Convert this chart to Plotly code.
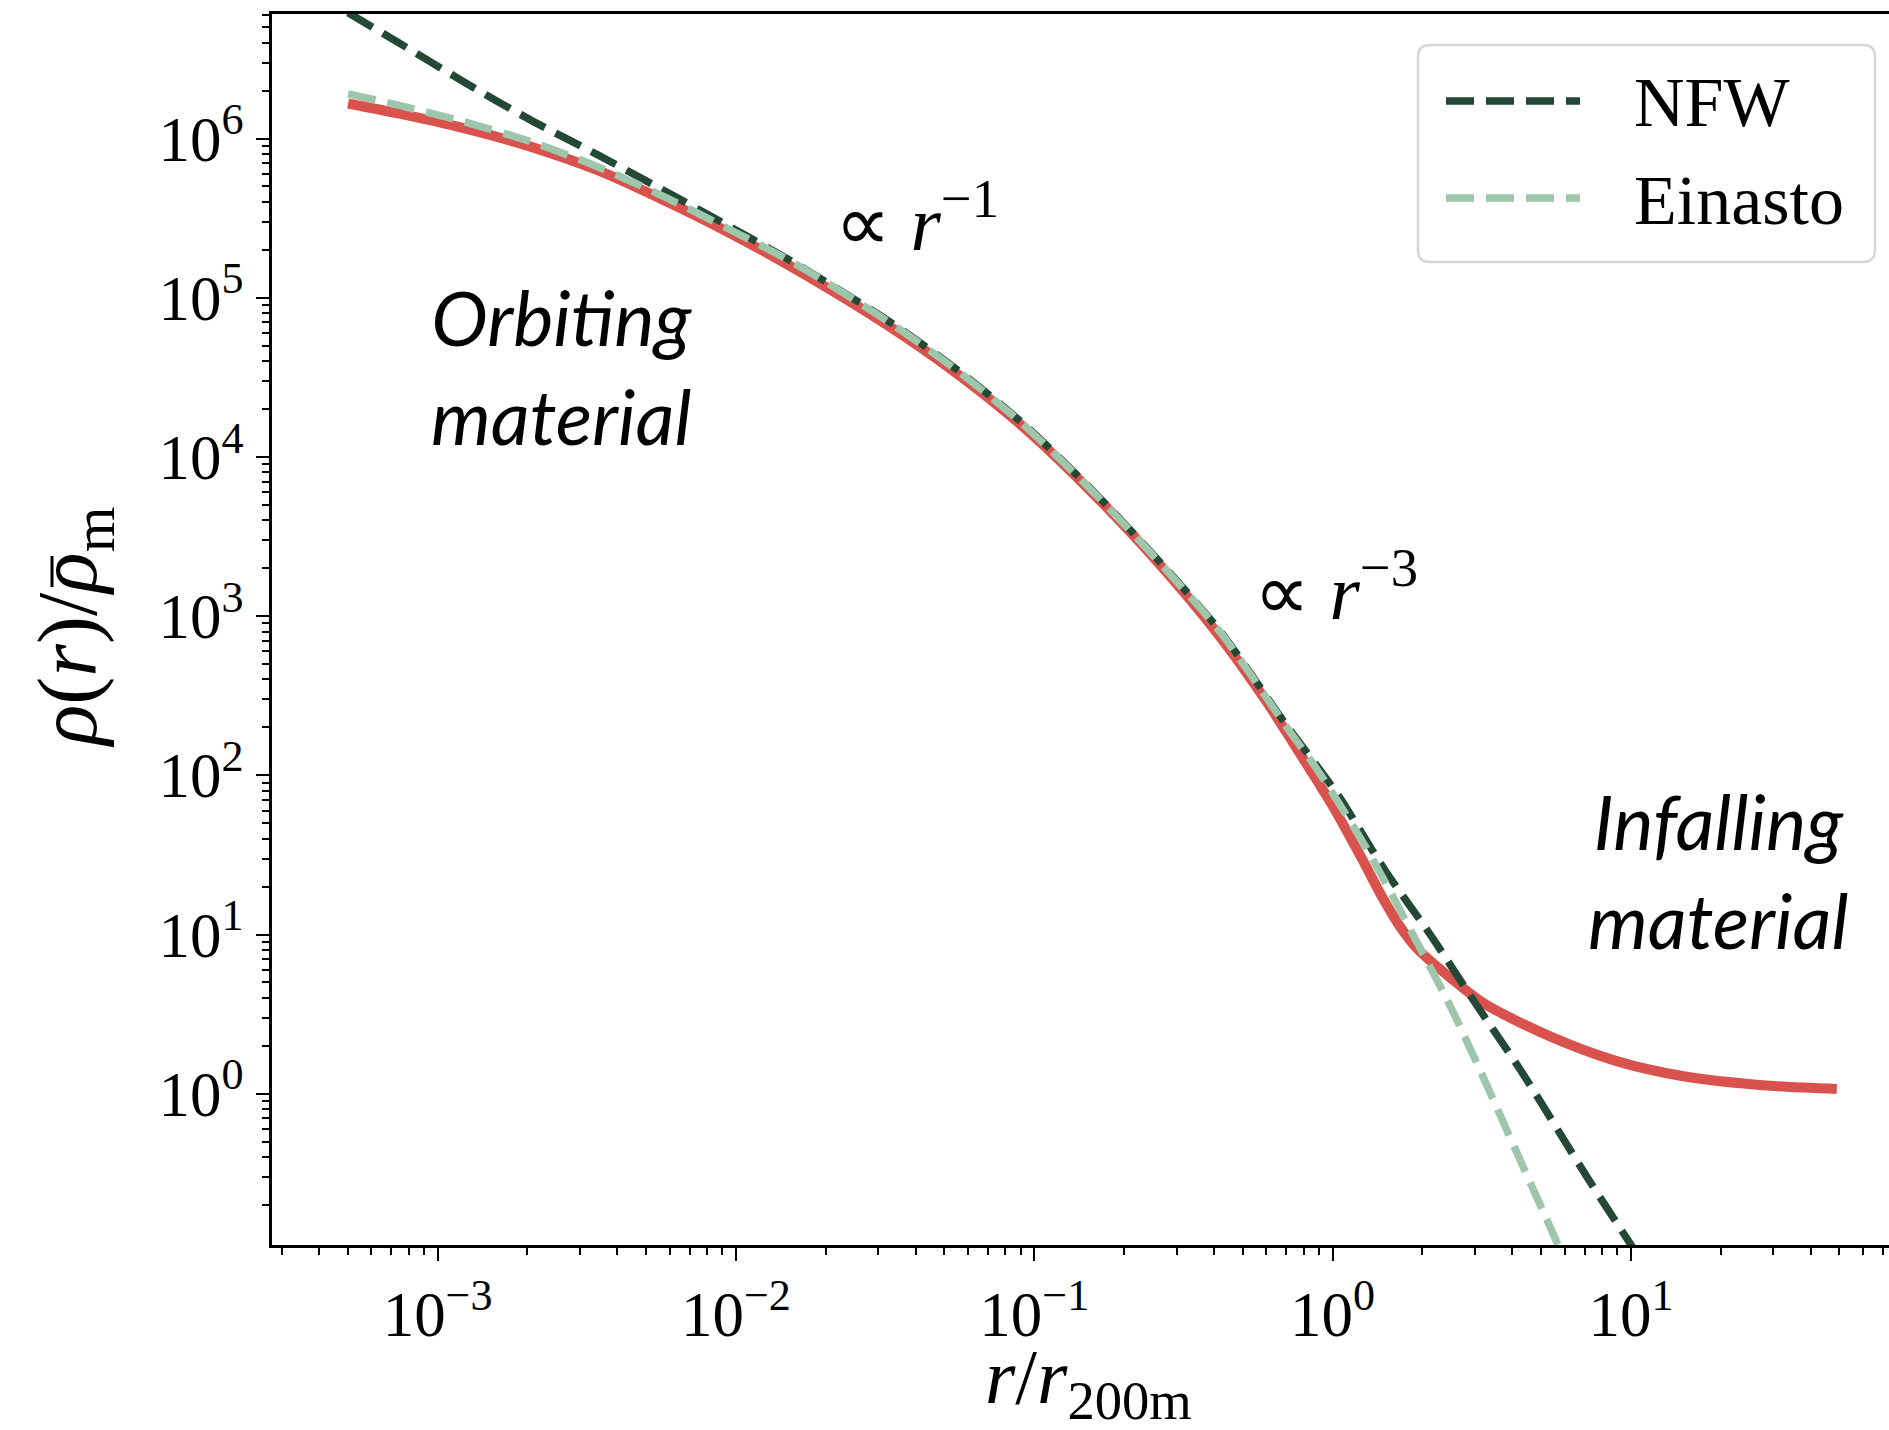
import numpy as np
import plotly.graph_objects as go

# ---- data (log10 of r/r200m and of rho/rho_m) ----
log_r_halo = [-3.30, -3.136, -2.913, -2.689, -2.466, -2.243, -2.019, -1.796, -1.494,
              -1.271, -1.047, -0.824, -0.601, -0.377, -0.224, -0.153, -0.05, 0.003,
              0.10, 0.170, 0.226, 0.282, 0.394, 0.505, 0.729, 0.952, 1.176, 1.466, 1.69]
log_rho_halo = [6.22, 6.159, 6.065, 5.949, 5.803, 5.614, 5.405, 5.175, 4.83,
                4.54, 4.205, 3.81, 3.37, 2.87, 2.47, 2.265, 1.96, 1.80,
                1.47, 1.223, 1.05, 0.915, 0.73, 0.57, 0.36, 0.205, 0.11, 0.05, 0.03]

log_r_nfw = [-3.30, -3.136, -2.913, -2.689, -2.466, -2.243, -2.019, -1.796, -1.494,
             -1.271, -1.047, -0.824, -0.601, -0.377, -0.153, -0.053, 0.024, 0.170,
             0.338, 0.477, 0.634, 0.857, 0.997, 1.15]
log_rho_nfw = [6.79, 6.608, 6.357, 6.117, 5.90, 5.675, 5.445, 5.21, 4.86,
               4.565, 4.225, 3.825, 3.385, 2.905, 2.31, 2.06, 1.86, 1.42,
               0.97, 0.573, 0.137, -0.536, -0.94, -1.38]

log_r_ein = [-3.30, -3.136, -2.913, -2.689, -2.466, -2.243, -2.019, -1.796, -1.494,
             -1.271, -1.047, -0.824, -0.601, -0.377, -0.153, -0.053, 0.115, 0.282,
             0.394, 0.505, 0.617, 0.751, 0.85]
log_rho_ein = [6.28, 6.211, 6.106, 5.981, 5.824, 5.636, 5.427, 5.207, 4.855,
               4.56, 4.22, 3.82, 3.38, 2.90, 2.30, 2.04, 1.537, 0.954,
               0.552, 0.103, -0.368, -0.93, -1.36]

r_200m = 1.0

x_tick_exps = [-3, -2, -1, 0, 1]
y_tick_exps = [0, 1, 2, 3, 4, 5, 6]

# ---- styling ----
RED = "#da524e"
DARK = "#234836"
LIGHT = "#9dc6aa"
SERIF = "Liberation Serif"
SANS_IT = "Lato"

W, H = 1889, 1430
ML, MR, MT, MB = 272, 0, 14, 185
PW, PH = W - ML - MR, H - MT - MB


def px(xp):
    return (xp - ML) / PW


def py(yp):
    return (H - MB - yp) / PH


def pw10(vals):
    return [10 ** v for v in vals]


fig = go.Figure()

fig.add_trace(go.Scatter(
    x=pw10(log_r_halo), y=pw10(log_rho_halo), mode="lines",
    line=dict(color=RED, width=10, shape="spline", smoothing=0.8),
    name="profile", showlegend=False))
fig.add_trace(go.Scatter(
    x=pw10(log_r_nfw), y=pw10(log_rho_nfw), mode="lines",
    line=dict(color=DARK, width=7.5, dash="28px,12px", shape="spline", smoothing=0.8),
    name="NFW", showlegend=False))
fig.add_trace(go.Scatter(
    x=pw10(log_r_ein), y=pw10(log_rho_ein), mode="lines",
    line=dict(color=LIGHT, width=7.5, dash="28px,12px", shape="spline", smoothing=0.8),
    name="Einasto", showlegend=False))


def minor_vals(lo, hi):
    out = []
    for e in range(lo, hi + 1):
        for m in range(2, 10):
            out.append(m * 10.0 ** e)
    return out


def pow_label(e):
    s = str(e).replace("-", "\u2212")
    return "10<sup>" + s + "</sup>"


x_minor = [v for v in minor_vals(-4, 1) if 10 ** -3.555 < v < 10 ** 1.865]
y_minor = [v for v in minor_vals(-1, 6) if 10 ** -0.95 < v < 10 ** 6.782]

axis_common = dict(
    type="log", showgrid=False, zeroline=False,
    showline=True, linecolor="black", linewidth=2.5,
    ticks="outside", ticklen=13, tickwidth=2, tickcolor="black",
    tickfont=dict(family=SERIF, size=63, color="black"),
)

fig.update_xaxes(
    **axis_common, range=[-3.555, 1.865], mirror=True,
    tickmode="array", tickvals=[10.0 ** e for e in x_tick_exps],
    ticktext=[pow_label(e) for e in x_tick_exps],
    minor=dict(tickmode="array", tickvals=x_minor, ticks="outside",
               ticklen=7, tickwidth=1.5, tickcolor="black", showgrid=False),
)
fig.update_yaxes(
    **axis_common, range=[-0.95, 6.782], mirror=False,
    tickmode="array", tickvals=[10.0 ** e for e in y_tick_exps],
    ticktext=[pow_label(e) for e in y_tick_exps],
    minor=dict(tickmode="array", tickvals=y_minor, ticks="outside",
               ticklen=7, tickwidth=1.5, tickcolor="black", showgrid=False),
)

shapes = []
# reference line at r = r200m
shapes.append(dict(type="line", xref="x", yref="paper",
                   x0=np.log10(r_200m), x1=np.log10(r_200m), y0=0, y1=1,
                   line=dict(color="#999999", width=1.5, dash="9px,4px"),
                   layer="below"))

# legend frame with rounded corners
x0, x1 = px(1418), px(1875)
y0, y1 = py(262), py(45)
rx, ry = 12 / PW, 12 / PH
path = (f"M{x0+rx},{y1} L{x1-rx},{y1} Q{x1},{y1} {x1},{y1-ry} "
        f"L{x1},{y0+ry} Q{x1},{y0} {x1-rx},{y0} L{x0+rx},{y0} "
        f"Q{x0},{y0} {x0},{y0+ry} L{x0},{y1-ry} Q{x0},{y1} {x0+rx},{y1} Z")
shapes.append(dict(type="path", xref="paper", yref="paper", path=path,
                   fillcolor="white", line=dict(color="#d6d6d6", width=2.5),
                   layer="above"))
for yy, col in [(101, DARK), (198, LIGHT)]:
    shapes.append(dict(type="line", xref="paper", yref="paper",
                       x0=px(1446), x1=px(1580), y0=py(yy), y1=py(yy),
                       line=dict(color=col, width=7.5, dash="28px,12px"),
                       layer="above"))

# bar over the second rho of the vertical axis title (mean density)
shapes.append(dict(type="line", xref="paper", yref="paper",
                   x0=px(52), x1=px(52), y0=py(587), y1=py(556),
                   line=dict(color="black", width=3), layer="above"))

annotations = []


def note(text, x, y, size, family, xanchor="center", angle=0):
    annotations.append(dict(text=text, x=x, y=y, xref="paper", yref="paper",
                            xanchor=xanchor, yanchor="middle", showarrow=False,
                            textangle=angle,
                            font=dict(family=family, size=size, color="black")))


note("NFW", px(1632), py(103), 70, SERIF, xanchor="left")
note("Einasto", px(1632), py(200), 70, SERIF, xanchor="left")

note("<i>Orbiting<br>material</i>", px(562), py(366), 76, SANS_IT)
note("<i>Infalling<br>material</i>", px(1718), py(870), 76, SANS_IT)
note("\u221d <i>r</i><sup>\u22121</sup>", px(833), py(218), 78, SERIF, xanchor="left")
note("\u221d <i>r</i><sup>\u22123</sup>", px(1252), py(586), 78, SERIF, xanchor="left")

note("<i>\u03c1</i>(<i>r</i>)/<i>\u03c1</i><sub>m</sub>", px(74), py(628), 84, SERIF,
     angle=-90)
note("<i>r</i>/<i>r</i><sub>200m</sub>", px(1088), py(1382), 78, SERIF)

fig.update_layout(
    width=W, height=H, autosize=False,
    margin=dict(l=ML, r=MR, t=MT, b=MB, pad=0),
    paper_bgcolor="white", plot_bgcolor="white",
    showlegend=False, shapes=shapes, annotations=annotations,
)

fig.write_html("out.html")
